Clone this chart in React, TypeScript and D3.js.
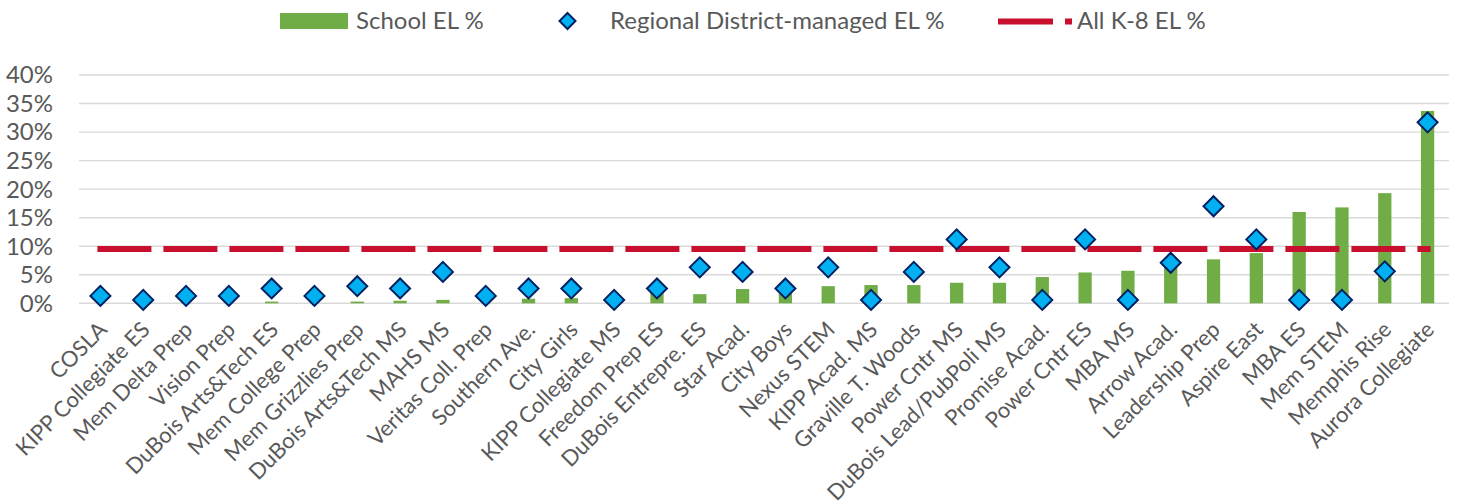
import React from "react";
import * as d3 from "d3";

const categories: string[] = [
  "COSLA", "KIPP Collegiate ES", "Mem Delta Prep", "Vision Prep", "DuBois Arts&Tech ES",
  "Mem College Prep", "Mem Grizzlies Prep", "DuBois Arts&Tech MS", "MAHS MS", "Veritas Coll. Prep",
  "Southern Ave.", "City Girls", "KIPP Collegiate MS", "Freedom Prep ES", "DuBois Entrepre. ES",
  "Star Acad.", "City Boys", "Nexus STEM", "KIPP Acad. MS", "Graville T. Woods",
  "Power Cntr MS", "DuBois Lead/PubPoli MS", "Promise Acad.", "Power Cntr ES", "MBA MS",
  "Arrow Acad.", "Leadership Prep", "Aspire East", "MBA ES", "Mem STEM",
  "Memphis Rise", "Aurora Collegiate",
];

const schoolEL: number[] = [
  0, 0, 0, 0, 0.003,
  0, 0.003, 0.0045, 0.006, 0,
  0.008, 0.009, 0, 0.018, 0.016,
  0.025, 0.017, 0.030, 0.032, 0.032,
  0.036, 0.036, 0.046, 0.054, 0.057,
  0.066, 0.077, 0.088, 0.160, 0.168,
  0.193, 0.337,
];

const regionalEL: number[] = [
  0.013, 0.006, 0.013, 0.013, 0.026,
  0.013, 0.030, 0.026, 0.055, 0.013,
  0.026, 0.026, 0.006, 0.026, 0.063,
  0.055, 0.026, 0.063, 0.006, 0.055,
  0.112, 0.063, 0.006, 0.112, 0.006,
  0.071, 0.170, 0.112, 0.006, 0.006,
  0.056, 0.317,
];

const allK8EL = 0.095;

const yTicks: number[] = [0, 0.05, 0.1, 0.15, 0.2, 0.25, 0.3, 0.35, 0.4];

const legendLabels = ["School EL %", "Regional District-managed EL %", "All K-8 EL %"];

const W = 1457;
const H = 503;
const FONT = "Lato, 'Open Sans', sans-serif";
const TEXT = "#595959";
const GREEN = "#70AD47";
const BLUE = "#00B0F0";
const NAVY = "#002060";
const RED = "#C8102E";
const GRID = "#D9D9D9";

export default function App() {
  const x = d3.scaleBand<string>().domain(categories).range([79, 1449]).padding(0);
  const y = d3.scaleLinear().domain([0, 0.4]).range([303.3, 75]);
  const step = x.bandwidth();
  const barW = step * 0.31;
  const cx = (c: string) => (x(c) as number) + step / 2;
  const fmt = d3.format(".0%");

  const diamond = (r: number) => `M0,${-r}L${r},0L0,${r}L${-r},0Z`;

  const lineX0 = cx(categories[0]) - 3;
  const lineX1 = cx(categories[categories.length - 1]) + 3;

  return (
    <svg width={W} height={H} style={{ position: "absolute", left: 0, top: 0, background: "#fff" }}>
      {/* gridlines */}
      {yTicks.map((t) => (
        <line key={"g" + t} x1={79} x2={1449} y1={y(t)} y2={y(t)} stroke={GRID} strokeWidth={1.4} />
      ))}
      {/* y labels */}
      {yTicks.map((t) => (
        <text key={"yl" + t} x={53} y={y(t)} dy="0.35em" textAnchor="end" fontFamily={FONT} fontSize={24} fill={TEXT}>
          {fmt(t)}
        </text>
      ))}
      {/* bars */}
      {categories.map((c, i) => (
        <rect key={"b" + c} x={cx(c) - barW / 2} y={y(schoolEL[i])} width={barW} height={y(0) - y(schoolEL[i])} fill={GREEN} />
      ))}
      {/* all K-8 line */}
      <line x1={lineX0} x2={lineX1} y1={y(allK8EL)} y2={y(allK8EL)} stroke={RED} strokeWidth={6} strokeDasharray="54 12" />
      {/* diamonds */}
      {categories.map((c, i) => (
        <path key={"d" + c} d={diamond(10)} transform={`translate(${cx(c)},${y(regionalEL[i])})`} fill={BLUE} stroke={NAVY} strokeWidth={2} />
      ))}
      {/* x labels */}
      {categories.map((c) => (
        <text key={"xl" + c} transform={`translate(${cx(c) + 8},${331}) rotate(-45)`} textAnchor="end" fontFamily={FONT} fontSize={22} fill={TEXT}>
          {c}
        </text>
      ))}
      {/* legend */}
      <rect x={280} y={13} width={68} height={16} fill={GREEN} />
      <text x={356} y={21} dy="0.35em" fontFamily={FONT} fontSize={24} fill={TEXT}>{legendLabels[0]}</text>
      <path d={diamond(8)} transform="translate(567.5,21)" fill={BLUE} stroke={NAVY} strokeWidth={2} />
      <text x={610} y={21} dy="0.35em" fontFamily={FONT} fontSize={24} fill={TEXT}>{legendLabels[1]}</text>
      <line x1={998} x2={1072} y1={21.5} y2={21.5} stroke={RED} strokeWidth={6} strokeDasharray="55 12" />
      <text x={1077} y={21} dy="0.35em" fontFamily={FONT} fontSize={24} fill={TEXT}>{legendLabels[2]}</text>
    </svg>
  );
}
